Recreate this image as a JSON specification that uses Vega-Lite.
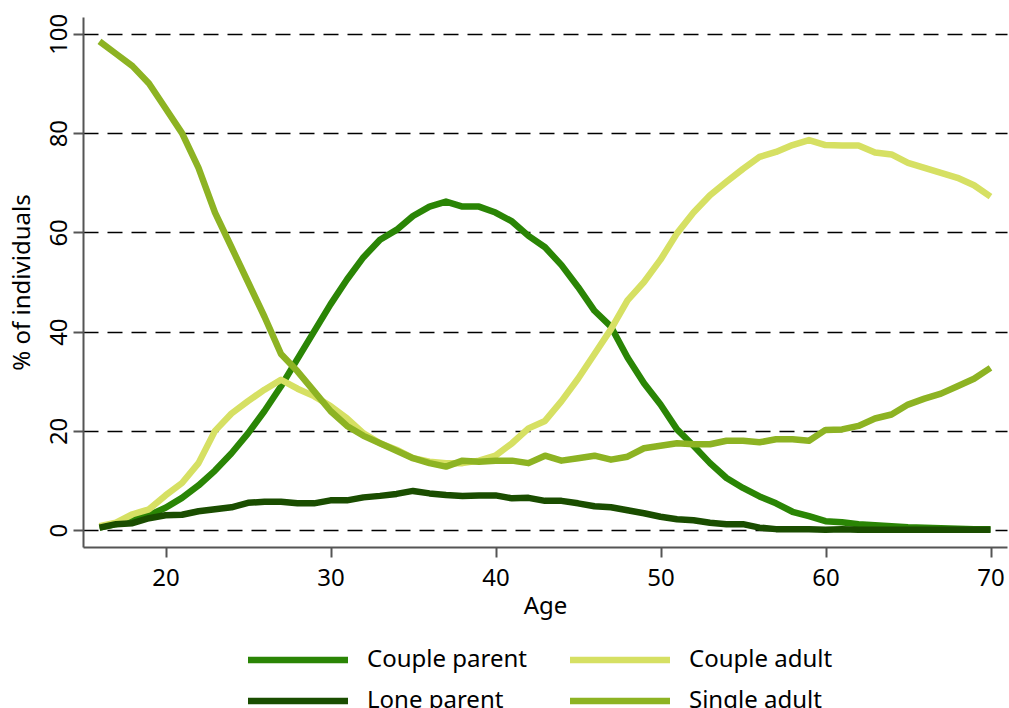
{
  "$schema": "https://vega.github.io/schema/vega-lite/v6.json",
  "autosize": {"type": "none"},
  "padding": {"left": 83, "top": 17, "right": 2, "bottom": 161},
  "width": 924,
  "height": 530,
  "background": "white",
  "config": {
    "font": "Noto Sans",
    "view": {"stroke": null}
  },
  "data": {
    "values": [
      {"age":16,"Couple parent":0.5,"Couple adult":0.8,"Lone parent":0.5,"Single adult":98.5},
      {"age":17,"Couple parent":1.2,"Couple adult":1.5,"Lone parent":1.2,"Single adult":96},
      {"age":18,"Couple parent":2,"Couple adult":3.2,"Lone parent":1.4,"Single adult":93.5},
      {"age":19,"Couple parent":3,"Couple adult":4.2,"Lone parent":2.4,"Single adult":90},
      {"age":20,"Couple parent":4.5,"Couple adult":7,"Lone parent":3,"Single adult":85},
      {"age":21,"Couple parent":6.5,"Couple adult":9.5,"Lone parent":3.1,"Single adult":80},
      {"age":22,"Couple parent":9,"Couple adult":13.5,"Lone parent":3.8,"Single adult":73},
      {"age":23,"Couple parent":12,"Couple adult":20,"Lone parent":4.2,"Single adult":64},
      {"age":24,"Couple parent":15.5,"Couple adult":23.5,"Lone parent":4.6,"Single adult":57},
      {"age":25,"Couple parent":19.5,"Couple adult":26,"Lone parent":5.5,"Single adult":50},
      {"age":26,"Couple parent":24,"Couple adult":28.3,"Lone parent":5.7,"Single adult":43},
      {"age":27,"Couple parent":29,"Couple adult":30.3,"Lone parent":5.7,"Single adult":35.5},
      {"age":28,"Couple parent":34.5,"Couple adult":28.5,"Lone parent":5.4,"Single adult":32},
      {"age":29,"Couple parent":40,"Couple adult":27,"Lone parent":5.4,"Single adult":28},
      {"age":30,"Couple parent":45.5,"Couple adult":25,"Lone parent":6,"Single adult":24},
      {"age":31,"Couple parent":50.5,"Couple adult":22.5,"Lone parent":6,"Single adult":21},
      {"age":32,"Couple parent":55,"Couple adult":19.5,"Lone parent":6.6,"Single adult":19},
      {"age":33,"Couple parent":58.5,"Couple adult":17.5,"Lone parent":6.9,"Single adult":17.5},
      {"age":34,"Couple parent":60.5,"Couple adult":16.2,"Lone parent":7.3,"Single adult":16},
      {"age":35,"Couple parent":63.3,"Couple adult":14.5,"Lone parent":7.9,"Single adult":14.5},
      {"age":36,"Couple parent":65.2,"Couple adult":13.8,"Lone parent":7.4,"Single adult":13.5},
      {"age":37,"Couple parent":66.2,"Couple adult":13.5,"Lone parent":7.1,"Single adult":12.8},
      {"age":38,"Couple parent":65.2,"Couple adult":13.5,"Lone parent":6.9,"Single adult":14},
      {"age":39,"Couple parent":65.2,"Couple adult":14,"Lone parent":7,"Single adult":13.8},
      {"age":40,"Couple parent":64,"Couple adult":15,"Lone parent":7,"Single adult":14},
      {"age":41,"Couple parent":62.2,"Couple adult":17.5,"Lone parent":6.4,"Single adult":14},
      {"age":42,"Couple parent":59.3,"Couple adult":20.5,"Lone parent":6.5,"Single adult":13.5},
      {"age":43,"Couple parent":57,"Couple adult":22,"Lone parent":5.9,"Single adult":15},
      {"age":44,"Couple parent":53.4,"Couple adult":26,"Lone parent":5.9,"Single adult":14},
      {"age":45,"Couple parent":49,"Couple adult":30.5,"Lone parent":5.4,"Single adult":14.5},
      {"age":46,"Couple parent":44.2,"Couple adult":35.5,"Lone parent":4.8,"Single adult":15},
      {"age":47,"Couple parent":41,"Couple adult":40.5,"Lone parent":4.6,"Single adult":14.2},
      {"age":48,"Couple parent":34.8,"Couple adult":46.3,"Lone parent":4,"Single adult":14.8},
      {"age":49,"Couple parent":29.6,"Couple adult":50,"Lone parent":3.4,"Single adult":16.5},
      {"age":50,"Couple parent":25.3,"Couple adult":54.5,"Lone parent":2.7,"Single adult":17},
      {"age":51,"Couple parent":20.3,"Couple adult":59.8,"Lone parent":2.2,"Single adult":17.5},
      {"age":52,"Couple parent":17,"Couple adult":64,"Lone parent":2,"Single adult":17.3},
      {"age":53,"Couple parent":13.5,"Couple adult":67.5,"Lone parent":1.5,"Single adult":17.3},
      {"age":54,"Couple parent":10.5,"Couple adult":70.2,"Lone parent":1.2,"Single adult":18},
      {"age":55,"Couple parent":8.5,"Couple adult":72.8,"Lone parent":1.2,"Single adult":18},
      {"age":56,"Couple parent":6.8,"Couple adult":75.2,"Lone parent":0.5,"Single adult":17.7},
      {"age":57,"Couple parent":5.4,"Couple adult":76.2,"Lone parent":0.2,"Single adult":18.3},
      {"age":58,"Couple parent":3.7,"Couple adult":77.6,"Lone parent":0.2,"Single adult":18.3},
      {"age":59,"Couple parent":2.8,"Couple adult":78.6,"Lone parent":0.2,"Single adult":18},
      {"age":60,"Couple parent":1.8,"Couple adult":77.6,"Lone parent":0.1,"Single adult":20.2},
      {"age":61,"Couple parent":1.6,"Couple adult":77.5,"Lone parent":0.2,"Single adult":20.3},
      {"age":62,"Couple parent":1.2,"Couple adult":77.5,"Lone parent":0.1,"Single adult":21},
      {"age":63,"Couple parent":1,"Couple adult":76.1,"Lone parent":0.1,"Single adult":22.5},
      {"age":64,"Couple parent":0.8,"Couple adult":75.7,"Lone parent":0.1,"Single adult":23.3},
      {"age":65,"Couple parent":0.6,"Couple adult":74,"Lone parent":0.1,"Single adult":25.3},
      {"age":66,"Couple parent":0.5,"Couple adult":73,"Lone parent":0.1,"Single adult":26.5},
      {"age":67,"Couple parent":0.4,"Couple adult":72,"Lone parent":0.1,"Single adult":27.5},
      {"age":68,"Couple parent":0.3,"Couple adult":71,"Lone parent":0.1,"Single adult":29},
      {"age":69,"Couple parent":0.2,"Couple adult":69.5,"Lone parent":0.1,"Single adult":30.5},
      {"age":70,"Couple parent":0.2,"Couple adult":67.2,"Lone parent":0.1,"Single adult":32.7}
    ]
  },
  "transform": [
    {"fold": ["Couple parent", "Couple adult", "Lone parent", "Single adult"], "as": ["group", "pct"]}
  ],
  "mark": {"type": "line", "strokeWidth": 6.5, "strokeJoin": "round", "strokeCap": "butt"},
  "encoding": {
    "x": {
      "field": "age", "type": "quantitative",
      "scale": {"domain": [15, 71], "nice": false, "zero": false},
      "axis": {
        "title": "Age", "values": [20, 30, 40, 50, 60, 70], "grid": false,
        "domainColor": "#555555", "domainWidth": 2, "tickColor": "#555555", "tickWidth": 2, "tickSize": 10,
        "labelFontSize": 24, "labelColor": "#000000", "labelPadding": 9,
        "titleFontSize": 24, "titleFontWeight": "normal", "titleColor": "#000000", "titlePadding": 4
      }
    },
    "y": {
      "field": "pct", "type": "quantitative",
      "scale": {"domain": [-3.4, 103.4], "nice": false, "zero": false},
      "axis": {
        "title": "% of individuals", "values": [0, 20, 40, 60, 80, 100], "grid": true,
        "gridColor": "#000000", "gridDash": [15, 9], "gridWidth": 1.3,
        "domainColor": "#555555", "domainWidth": 2, "tickColor": "#555555", "tickWidth": 2, "tickSize": 10,
        "labelAngle": -90, "labelAlign": "center", "labelBaseline": "bottom",
        "labelFontSize": 24, "labelColor": "#000000", "labelPadding": 2,
        "titleFontSize": 24, "titleFontWeight": "normal", "titleColor": "#000000", "titlePadding": 13
      }
    },
    "color": {
      "field": "group", "type": "nominal",
      "scale": {
        "domain": ["Couple parent", "Couple adult", "Lone parent", "Single adult"],
        "range": ["#2a8505", "#d6e063", "#1a4d00", "#8db323"]
      },
      "legend": {
        "title": null, "orient": "none", "legendX": 199, "legendY": 627,
        "columns": 2, "direction": "horizontal",
        "symbolType": "M-4,0L4,0", "symbolSize": 625, "symbolStrokeWidth": 6.5,
        "labelFontSize": 24, "labelColor": "#000000", "labelOffset": 53,
        "columnPadding": 30, "rowPadding": 12, "labelLimit": 300
      }
    }
  }
}
